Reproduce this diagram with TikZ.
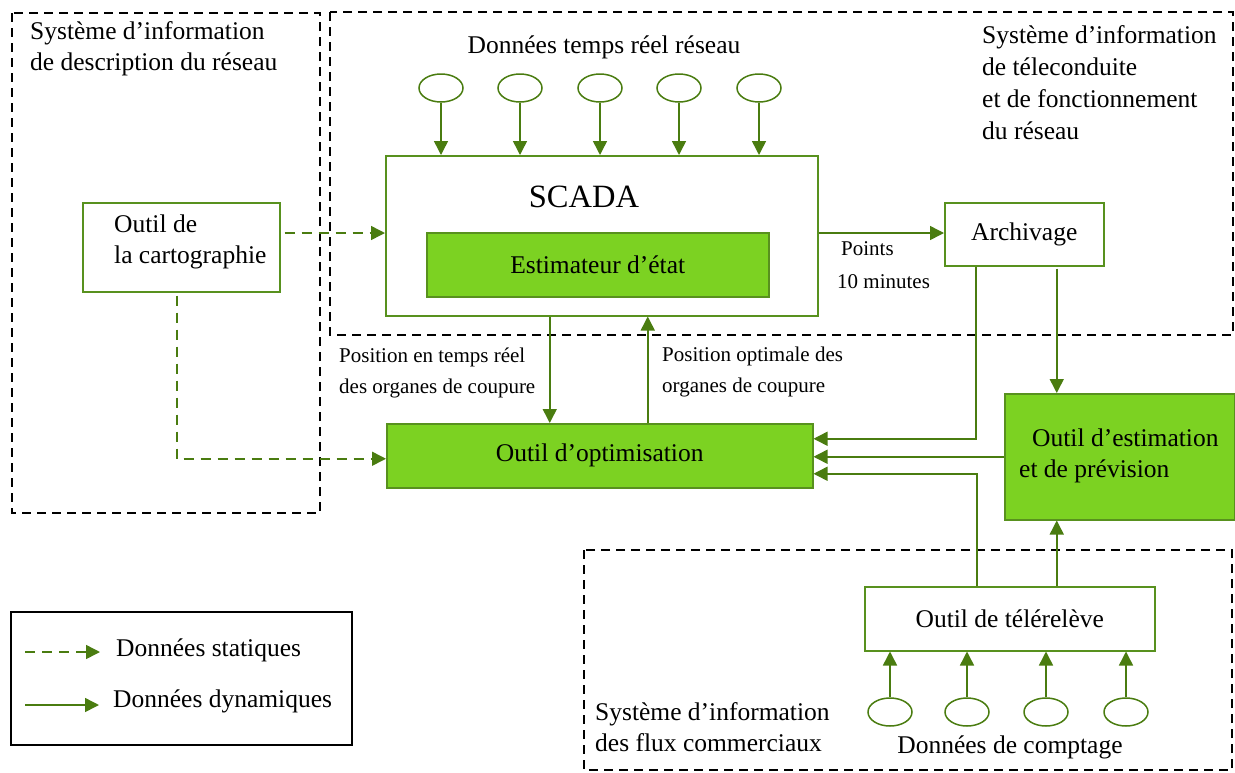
\documentclass[tikz,border=0pt]{standalone}
\usepackage{fontspec}
\setmainfont{Liberation Serif}
\usetikzlibrary{arrows.meta,shapes.geometric,calc}
\definecolor{lgreen}{RGB}{124,210,34}
\definecolor{bgreen}{RGB}{88,145,30}
\definecolor{agreen}{RGB}{74,124,16}
\tikzset{
  x=1pt, y=-1pt,
  txt/.style={inner sep=0pt, font=\fontsize{25.5}{31}\selectfont, align=left},
  stxt/.style={inner sep=0pt, font=\fontsize{21}{31}\selectfont, align=left},
  wbox/.style={draw=bgreen, line width=1.5pt, fill=white, inner sep=0pt, anchor=north west, font=\fontsize{25.5}{31}\selectfont},
  gbox/.style={wbox, fill=lgreen},
  zone/.style={draw=black, line width=1.5pt, dash pattern=on 9pt off 6pt},
  oval/.style={ellipse, draw=agreen, line width=1.5pt, minimum width=44pt, minimum height=28pt, inner sep=0pt},
  arr/.style={draw=agreen, line width=1.5pt, -{Triangle[length=14pt,width=14pt]}},
  darr/.style={arr, dash pattern=on 10pt off 7pt},
}
\begin{document}
\begin{tikzpicture}
\useasboundingbox (0,0) rectangle (1235,772);
% zones
\draw[zone] (12,13) rectangle (320,513);
\draw[zone] (330,12) rectangle (1233,335);
\draw[zone] (584,550) rectangle (1232,770);
\draw[line width=1.5pt] (11,612) rectangle (352,745);

% zone texts
\node[txt, anchor=west] (z1) at (30,48.5) {Système d’information\\de description du réseau};
\node[txt, anchor=west, font=\fontsize{25.5}{32}\selectfont] (z2) at (982,83) {Système d’information\\de téleconduite\\et de fonctionnement\\du réseau};
\node[txt, anchor=west] (z3) at (595,727) {Système d’information\\des flux commerciaux};
\node[txt] (dtr) at (604,47) {Données temps réel réseau};
\node[txt] (dc) at (1010,747) {Données de comptage};

% boxes
\node[wbox, minimum width=432pt, minimum height=160pt] (scada) at (385,155) {};
\node[inner sep=0pt, font=\fontsize{32.5}{36}\selectfont] (scadat) at (584,197) {SCADA};
\node[gbox, minimum width=342pt, minimum height=64pt] (est1) at (426,232) {Estimateur d’état};
\node[wbox, minimum width=159pt, minimum height=63pt] (arch) at (944,202) {Archivage};
\node[wbox, minimum width=197pt, minimum height=89pt] (cart) at (82,202) {};
\node[txt, anchor=west] (cartt) at (114,241.5) {Outil de\\la cartographie};
\node[gbox, minimum width=426pt, minimum height=64pt] (opt) at (386,423) {Outil d’optimisation};
\node[gbox, minimum width=230pt, minimum height=126pt] (est) at (1004,393) {};
\node[txt, anchor=west] (estt) at (1019,456) {\hspace*{13pt}Outil d’estimation\\et de prévision};
\node[wbox, minimum width=290pt, minimum height=64pt] (tele) at (864,586) {Outil de télérelève};

% ovals top
\foreach \i/\x in {1/441,2/520,3/600,4/679,5/759}{
  \node[oval] (e\i) at (\x,88) {};
  \draw[arr] (e\i.south) -- (e\i.south |- scada.north);
}
% ovals bottom
\foreach \i/\x in {1/890,2/967,3/1046,4/1126}{
  \node[oval] (b\i) at (\x,712) {};
  \draw[arr] (b\i.north) -- (b\i.north |- tele.south);
}

% labels
\node[stxt, anchor=west] (l1) at (841,249) {Points};
\node[stxt, anchor=west] (l2) at (837,282) {10 minutes};
\node[stxt, anchor=west] (l3) at (339,373) {Position en temps réel\\des organes de coupure};
\node[stxt, anchor=west] (l4) at (662,372) {Position optimale des\\organes de coupure};

% connectors
\draw[darr] ([xshift=4pt,yshift=-31pt]cart.north east) -- ([yshift=-78pt]scada.north west);
\draw[darr] ([xshift=-4.5pt,yshift=-3pt]cart.south) |- ([yshift=-3pt]opt.west);
\draw[arr] ([yshift=-78pt]scada.north east) -- ([yshift=-78pt]scada.north east -| arch.west);
\draw[arr] ([xshift=-52pt]scada.south) -- ([xshift=-52pt]scada.south |- opt.north);
\draw[arr] ([xshift=48pt]opt.north) -- ([xshift=48pt]opt.north |- scada.south);
\draw[arr] ([xshift=-48.5pt]arch.south) |- ([yshift=17pt]opt.east);
\draw[arr] ([xshift=32.5pt,yshift=-2pt]arch.south) -- ([xshift=32.5pt]arch.south |- est.north);
\draw[arr] (est.west) -- (est.west -| opt.east);
\draw[arr] ([xshift=-33pt]tele.north) |- ([yshift=-18pt]opt.east);
\draw[arr] ([xshift=47pt]tele.north) -- ([xshift=47pt]tele.north |- est.south);

% legend
\coordinate (ls1) at (25,652);
\coordinate (le1) at (100,652);
\coordinate (ls2) at (25,705);
\coordinate (le2) at (99,705);
\draw[darr] (ls1) -- (le1);
\draw[arr] (ls2) -- (le2);
\node[txt, anchor=west] (lg1) at (116,650) {Données statiques};
\node[txt, anchor=west] (lg2) at (113,701) {Données dynamiques};
\end{tikzpicture}
\end{document}
